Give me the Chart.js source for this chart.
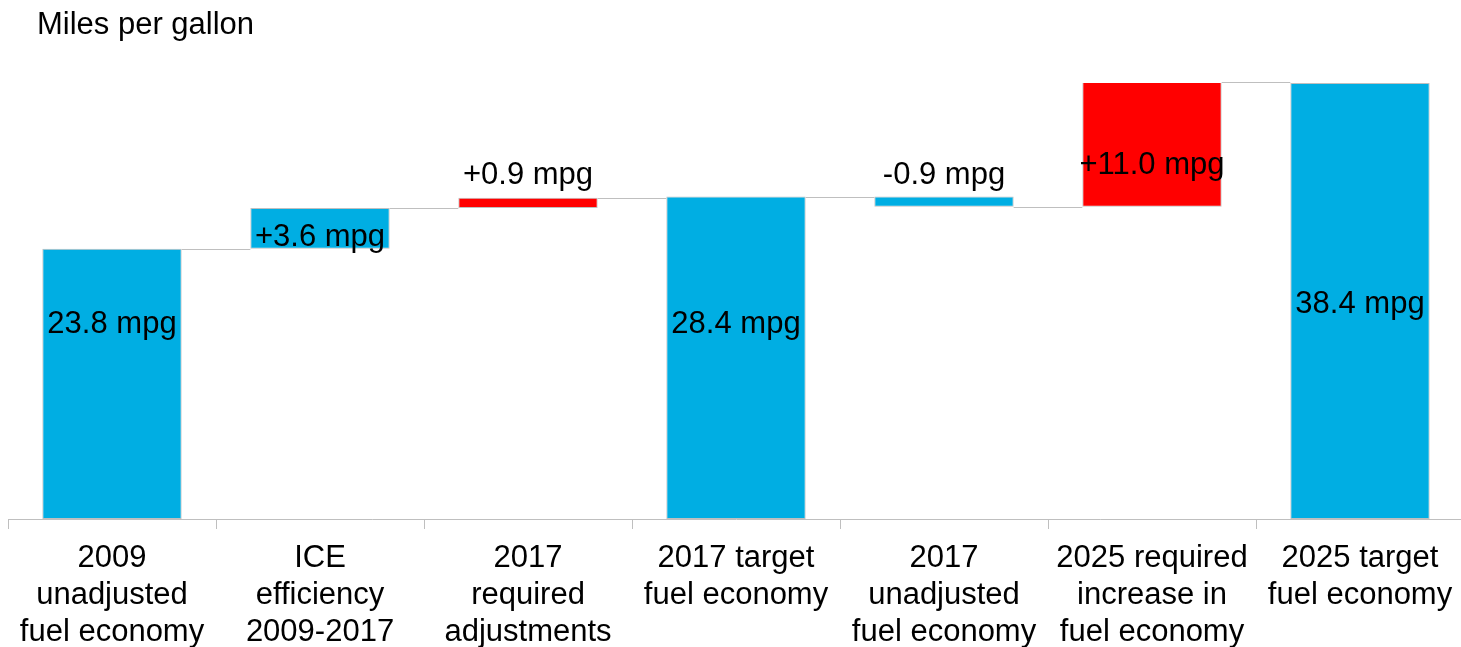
<!DOCTYPE html>
<html>
<head>
<meta charset="utf-8">
<script src="https://cdn.jsdelivr.net/npm/chart.js@4/dist/chart.umd.min.js"></script>
<style>
  html, body { margin: 0; padding: 0; background: #fff; overflow: hidden; }
  #wrap { width: 1464px; height: 647px; }
</style>
</head>
<body>
<div id="wrap"><canvas id="c" width="1464" height="647"></canvas></div>
<script>
// ---- data ----
const categories = [
  ['2009', 'unadjusted', 'fuel economy'],
  ['ICE', 'efficiency', '2009-2017'],
  ['2017', 'required', 'adjustments'],
  ['2017 target', 'fuel economy'],
  ['2017', 'unadjusted', 'fuel economy'],
  ['2025 required', 'increase in', 'fuel economy'],
  ['2025 target', 'fuel economy']
];
const values = [23.8, 3.6, 0.9, 28.4, -0.9, 11.0, 38.4];
const isTotal = [true, false, false, true, false, false, true];
const barColors = ['#00AEE3', '#00AEE3', '#FF0000', '#00AEE3', '#00AEE3', '#FF0000', '#00AEE3'];
// vertical anchor of each value label, in mpg
const labelAt = [17.1, 24.8, 30.3, 17.1, 30.3, 31.1, 18.9];
const yTitle = 'Miles per gallon';

// ---- build floating bars ----
const ranges = [];
const ends = [];
let running = 0;
values.forEach((v, i) => {
  if (isTotal[i]) {
    ranges.push([0, v]);
    running = v;
    ends.push(v);
  } else {
    const start = running;
    running = start + v;
    ranges.push([start, running]);
    ends.push(running);
  }
});
const labelTexts = values.map((v, i) =>
  isTotal[i] ? v.toFixed(1) + ' mpg' : (v > 0 ? '+' : '') + v.toFixed(1) + ' mpg');

const FONT = '"Liberation Sans", Arial, sans-serif';
const FSIZE = 31;

const waterfallPlugin = {
  id: 'waterfallExtras',
  afterDatasetsDraw(chart) {
    const ctx = chart.ctx;
    const meta = chart.getDatasetMeta(0);
    const y = chart.scales.y;
    // connectors
    ctx.save();
    ctx.strokeStyle = '#BFBFBF';
    ctx.lineWidth = 1;
    for (let i = 0; i < meta.data.length - 1; i++) {
      const a = meta.data[i], b = meta.data[i + 1];
      const py = Math.round(y.getPixelForValue(ends[i])) + 0.5;
      ctx.beginPath();
      ctx.moveTo(a.x + a.width / 2, py);
      ctx.lineTo(b.x - b.width / 2, py);
      ctx.stroke();
    }
    // value labels
    ctx.fillStyle = '#000';
    ctx.font = FSIZE + 'px ' + FONT;
    ctx.textAlign = 'center';
    ctx.textBaseline = 'middle';
    meta.data.forEach((bar, i) => {
      ctx.fillText(labelTexts[i], bar.x, y.getPixelForValue(labelAt[i]));
    });
    // title
    ctx.textAlign = 'left';
    ctx.textBaseline = 'alphabetic';
    ctx.fillText(yTitle, 37, 34);
    ctx.restore();
  }
};

new Chart(document.getElementById('c'), {
  type: 'bar',
  data: {
    labels: categories,
    datasets: [{
      data: ranges,
      backgroundColor: barColors,
      borderColor: '#BFBFBF',
      borderWidth: 1,
      borderSkipped: false,
      categoryPercentage: 1,
      barPercentage: 0.67
    }]
  },
  options: {
    responsive: false,
    animation: false,
    layout: { padding: { top: 83, left: 8, right: 0, bottom: 0 } },
    plugins: { legend: { display: false }, tooltip: { enabled: false }, title: { display: false } },
    scales: {
      y: { display: false, min: 0, max: 38.4 },
      x: {
        afterFit(scale) { scale.height = 128; },
        grid: {
          display: true, offset: true, drawOnChartArea: false, drawTicks: true,
          tickLength: 10, color: '#BFBFBF', lineWidth: 1
        },
        border: { display: true, color: '#BFBFBF', width: 1 },
        ticks: {
          color: '#000', padding: 11, maxRotation: 0, autoSkip: false,
          font: { family: FONT, size: FSIZE, lineHeight: 37 / FSIZE }
        }
      }
    }
  },
  plugins: [waterfallPlugin]
});
</script>
</body>
</html>
